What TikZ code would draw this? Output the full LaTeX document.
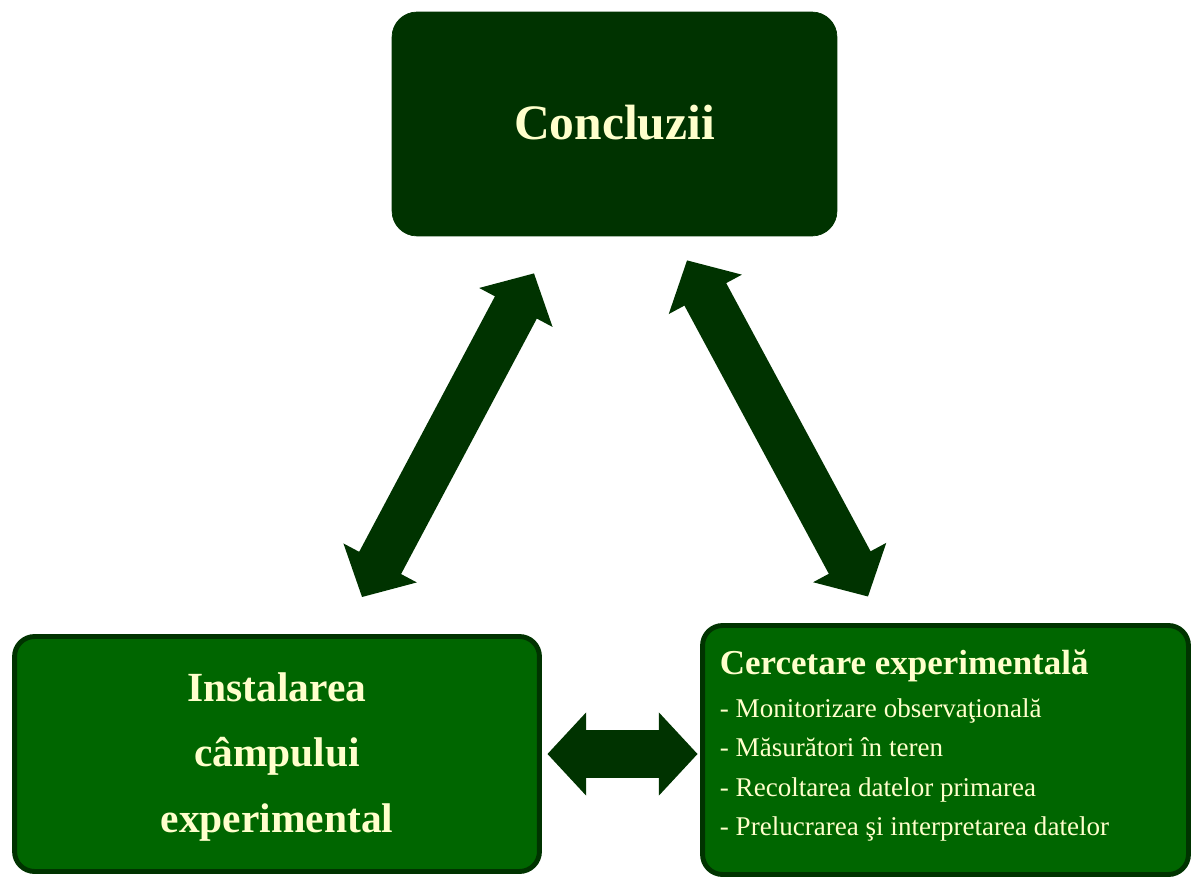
\documentclass[tikz,border=0pt]{standalone}
\usepackage{fontspec}
\setmainfont{Liberation Serif}
\usetikzlibrary{arrows.meta}
\definecolor{dkgreen}{HTML}{003300}
\definecolor{midgreen}{HTML}{006600}
\definecolor{cream}{HTML}{FFFFCC}
\tikzset{
  topbox/.style={fill=dkgreen, draw=dkgreen, rounded corners=0.5cm, inner sep=0pt},
  lowbox/.style={fill=midgreen, draw=dkgreen, line width=2.8pt, rounded corners=0.4cm, inner sep=0pt},
  dbl/.style={draw=dkgreen, line width=27pt,
    {Triangle[length=22pt,width=46pt]}-{Triangle[length=22pt,width=46pt]}}
}
\begin{document}
\begin{tikzpicture}[x=0.02cm,y=-0.02cm]
\useasboundingbox (0,0) rectangle (1192,878);
\node[topbox, minimum width=8.9cm, minimum height=4.48cm] (concl) at (614.5,124) {};
\node[text=cream, font=\fontsize{28.2}{34}\selectfont\bfseries] (conclt) at (614.5,123) {Concluzii};
\node[lowbox, minimum width=10.5cm, minimum height=4.7cm] (inst) at (277,754) {};
\node[text=cream, align=center, font=\fontsize{23.6}{37.5}\selectfont\bfseries] (instt) at (277,757)
  {Instalarea\\câmpului\\experimental};
\node[lowbox, minimum width=9.72cm, minimum height=4.98cm] (cerc) at (945.5,750) {};
\node[text=cream, align=left, anchor=north west, inner sep=0pt,
  font=\fontsize{15.4}{22.4}\selectfont] (cerct)
  at ([xshift=0.39cm,yshift=-0.53cm]cerc.north west)
  {\fontsize{19.9}{24.4}\selectfont\bfseries Cercetare experimentală\\[2pt]
   - Monitorizare observaţională\\
   - Măsurători în teren\\
   - Recoltarea datelor primarea\\
   - Prelucrarea şi interpretarea datelor};
\draw[dbl] ([xshift=1.7cm,yshift=0.74cm]inst.north) -- ([xshift=-1.61cm,yshift=-0.74cm]concl.south);
\draw[dbl] ([xshift=1.45cm,yshift=-0.48cm]concl.south) -- ([xshift=-1.55cm,yshift=0.53cm]cerc.north);
\draw[dbl] ([xshift=0.11cm]inst.east) -- ([xshift=-0.05cm]inst.east -| cerc.west);
\end{tikzpicture}
\end{document}
